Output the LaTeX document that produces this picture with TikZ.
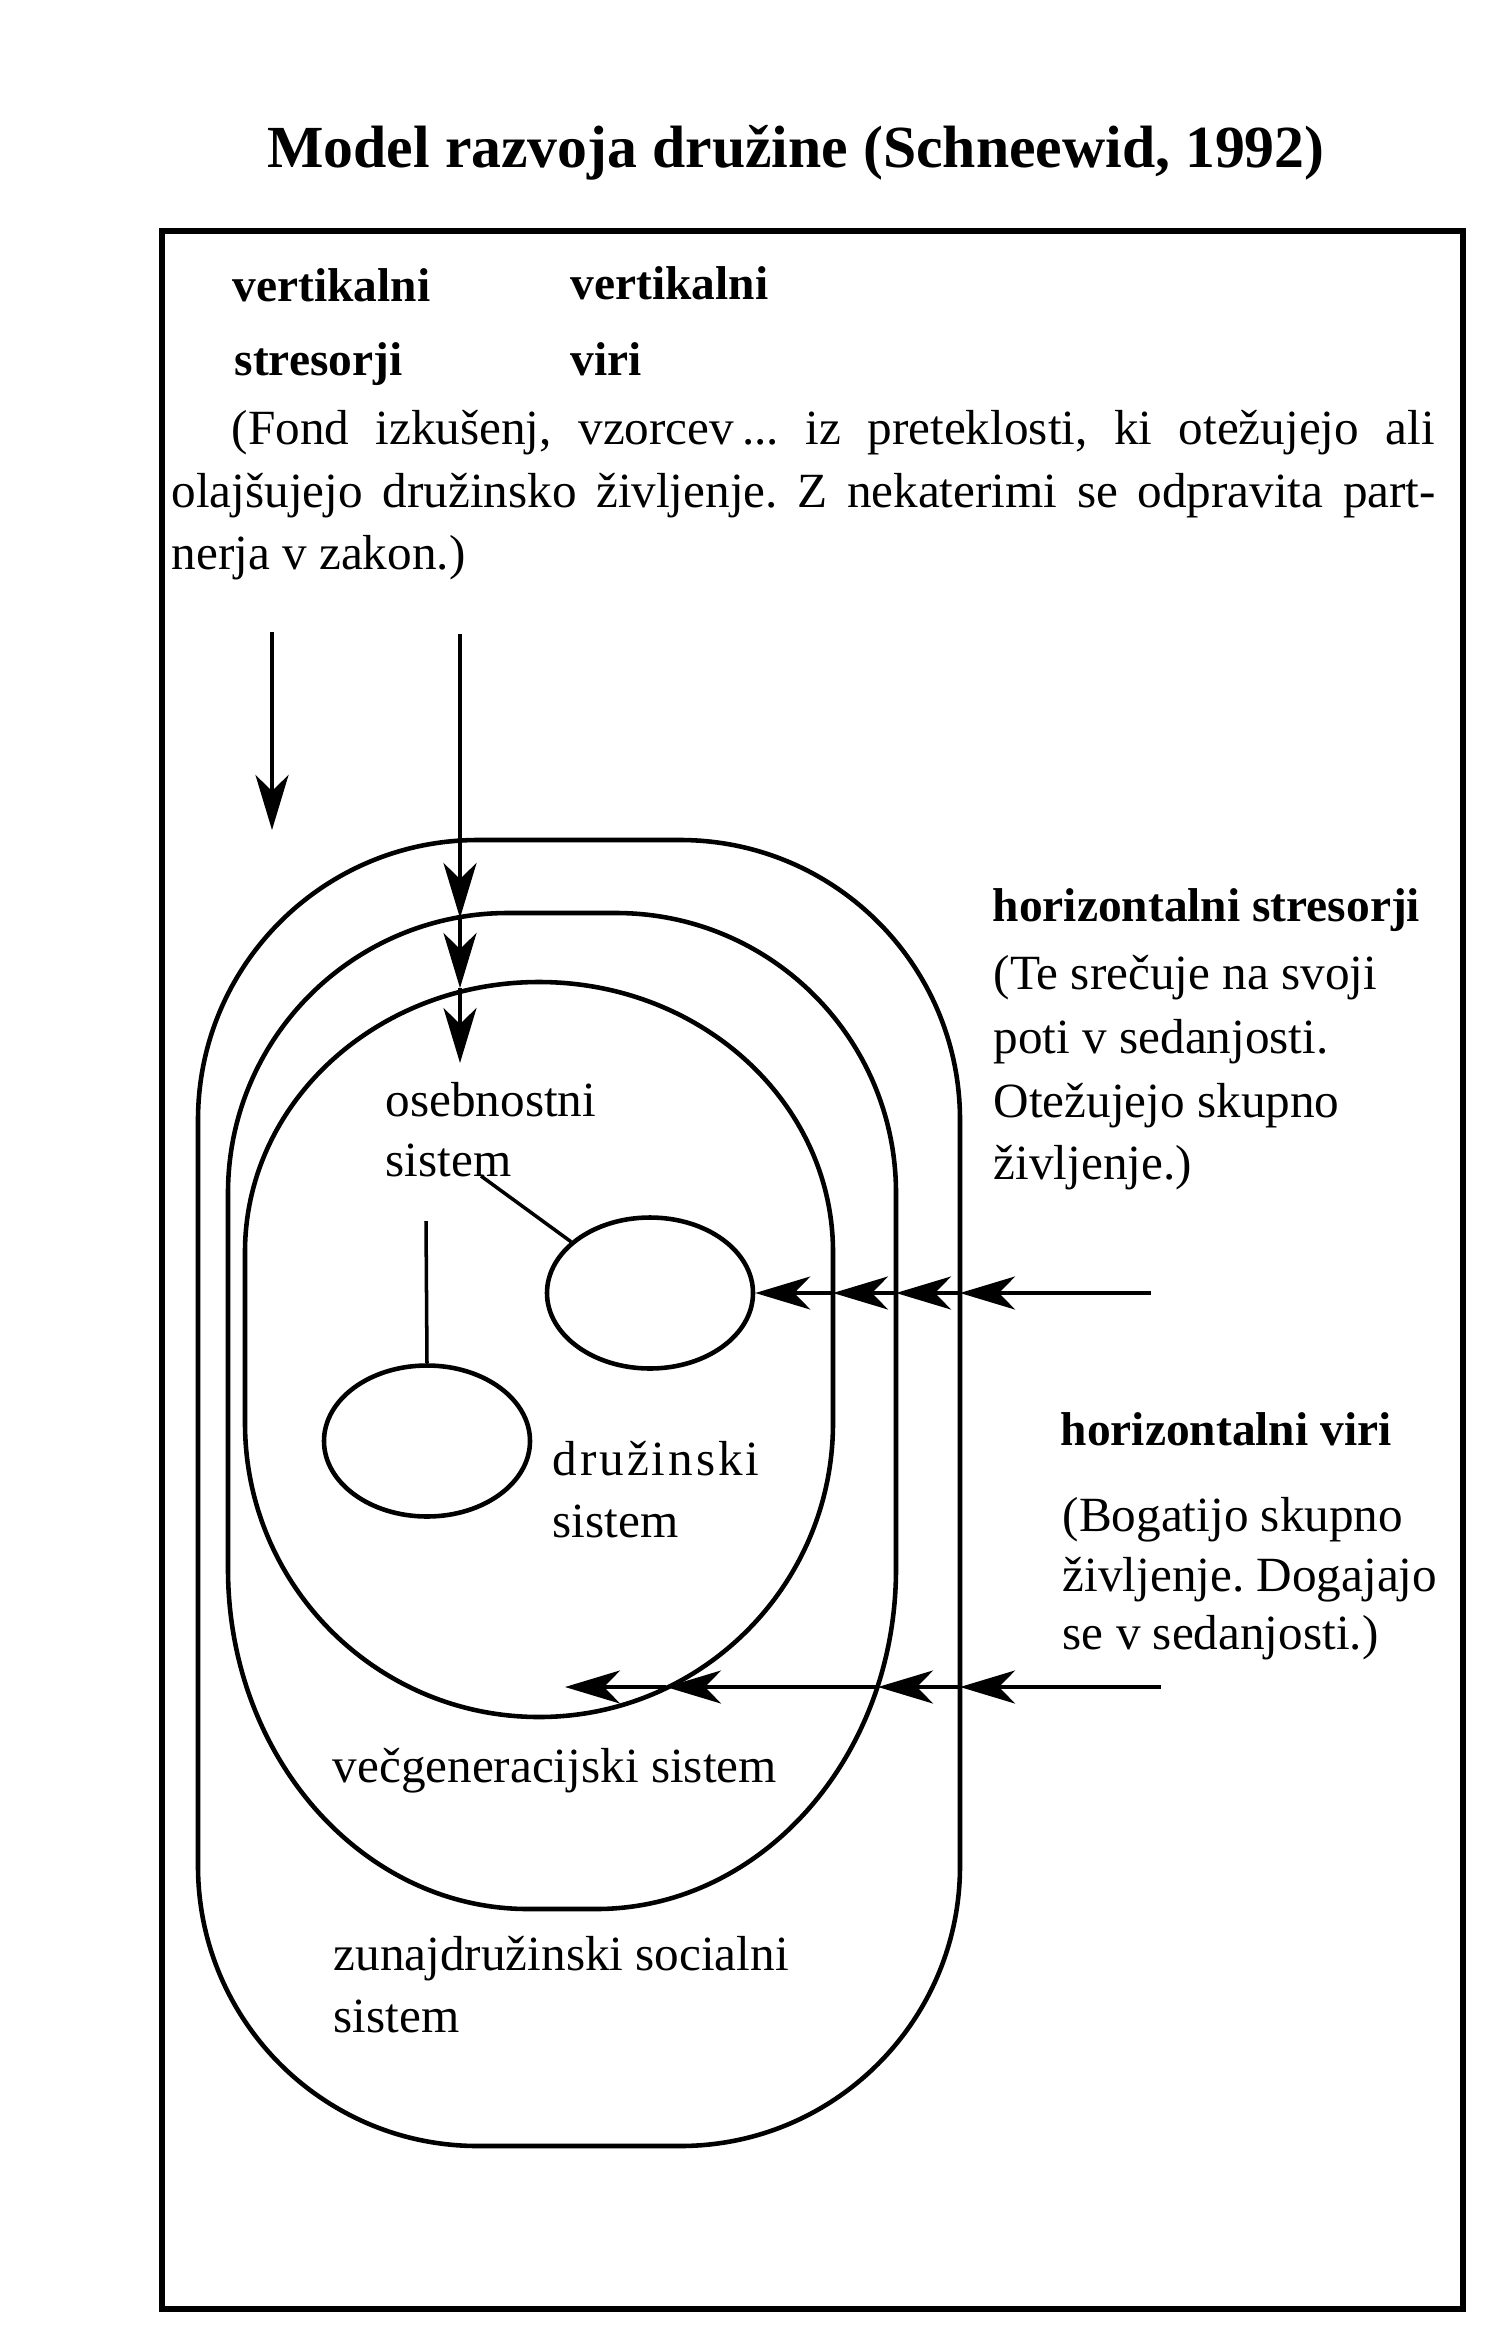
\documentclass[tikz,border=0pt]{standalone}
\usepackage{fontspec}
\setmainfont{Liberation Serif}
\usetikzlibrary{arrows.meta, shapes.geometric, positioning}
\frenchspacing

\tikzset{
    lbl/.style={anchor=base west, inner sep=0pt, font=\fontsize{14}{17}\selectfont},
    hdlbl/.style={lbl, font=\fontsize{13.5}{16}\selectfont\bfseries},
    sysline/.style={line width=1.3pt},
    link/.style={line width=1pt},
    flow/.style={line width=1.1pt, -{Stealth[length=5.5mm, width=3.3mm, inset=1.6mm]}},
    person/.style={draw, ellipse, line width=1.3pt, minimum width=2.06cm, minimum height=1.51cm, inner sep=0pt}
}

\begin{document}
\begin{tikzpicture}
    \useasboundingbox (0,0) rectangle (15,-23.41);

    % Title
    \node[anchor=base, font=\fontsize{17}{20}\selectfont\bfseries] (title) at (7.96,-1.68) {Model razvoja družine (Schneewid, 1992)};

    % Frame
    \draw[line width=1.5pt] (1.62,-2.31) rectangle (14.63,-23.09);

    % Vertical stressors and resources
    \node[hdlbl] (vsHead) at (2.32,-3.01) {vertikalni};
    \node[hdlbl] (vsSub) at (2.34,-3.75) {stresorji};
    \node[hdlbl] (vvHead) at (5.70,-2.99) {vertikalni};
    \node[hdlbl] (vvSub) at (5.70,-3.75) {viri};

    \node[lbl] (fond1) at (2.31,-4.44) {\makebox[12.03cm][s]{(Fond izkušenj, vzorcev\,... iz preteklosti, ki otežujejo ali}};
    \node[lbl] (fond2) at (1.71,-5.07) {\makebox[12.64cm][s]{olajšujejo družinsko življenje. Z nekaterimi se odpravita part-}};
    \node[lbl] (fond3) at (1.71,-5.69) {nerja v zakon.)};

    % Outer system
    \draw[sysline] (1.98,-18.66) -- (1.98,-11.20)
        arc[start angle=180, end angle=90, radius=2.8] -- (6.80,-8.40)
        arc[start angle=90, end angle=0, radius=2.8] -- (9.60,-18.66)
        arc[start angle=0, end angle=-90, radius=2.8] -- (4.78,-21.46)
        arc[start angle=270, end angle=180, radius=2.8] -- cycle;

    % Multigenerational system
    \draw[sysline] (2.28,-15.69) -- (2.28,-11.93)
        arc[start angle=180, end angle=90, radius=2.8] -- (6.16,-9.13)
        arc[start angle=90, end angle=0, radius=2.8] -- (8.96,-15.69)
        arc[start angle=0, end angle=-90, x radius=3.0, y radius=3.4] -- (5.28,-19.09)
        arc[start angle=270, end angle=180, x radius=3.0, y radius=3.4] -- cycle;

    % Family system
    \draw[sysline] (2.45,-14.23) -- (2.45,-12.52)
        arc[start angle=180, end angle=0, x radius=2.94, y radius=2.7] -- (8.33,-14.23)
        arc[start angle=0, end angle=-180, radius=2.94] -- cycle;

    % Persons
    \node[person] (persA) at (6.50,-12.93) {};
    \node[person] (persB) at (4.27,-14.41) {};

    \node[lbl] (osebLbl) at (3.85,-11.16) {osebnostni};
    \node[lbl] (osebLblB) at (3.85,-11.76) {sistem};
    \node[lbl] (druzLbl) at (5.52,-14.75) {\addfontfeature{LetterSpace=6}družinski};
    \node[lbl] (druzLblB) at (5.52,-15.37) {sistem};
    \node[lbl] (vecLbl) at (3.32,-17.82) {večgeneracijski sistem};
    \node[lbl] (zunLbl) at (3.33,-19.70) {zunajdružinski socialni};
    \node[lbl] (zunLblB) at (3.33,-20.32) {sistem};

    \coordinate (osebTail) at (4.81,-11.76);
    \coordinate (druzTail) at (4.26,-12.21);
    \draw[link] (osebTail) -- (persA.147);
    \draw[link] (druzTail) -- (persB.north);

    % Vertical arrows
    \coordinate (vsTop) at (2.72,-6.32);
    \coordinate (vsEnd) at (2.72,-8.30);
    \draw[flow] (vsTop) -- (vsEnd);

    \coordinate (vvTop) at (4.60,-6.34);
    \coordinate (vvMid) at (4.60,-9.18);
    \coordinate (vvInn) at (4.60,-9.88);
    \coordinate (vvEnd) at (4.60,-10.63);
    \foreach \a/\b in {vvTop/vvMid, vvMid/vvInn, vvInn/vvEnd}
        \draw[flow] (\a) -- (\b);

    % Horizontal stressors
    \node[hdlbl] (hsHead) at (9.92,-9.21) {horizontalni stresorji};
    \node[lbl] (hs1) at (9.93,-9.89) {(Te srečuje na svoji};
    \node[lbl] (hs2) at (9.93,-10.53) {poti v sedanjosti.};
    \node[lbl] (hs3) at (9.93,-11.17) {Otežujejo skupno};
    \node[lbl] (hs4) at (9.93,-11.79) {življenje.)};

    \coordinate (hsStart) at (11.51,-12.93);
    \coordinate (hsOut) at (9.60,-12.93);
    \coordinate (hsMid) at (8.96,-12.93);
    \coordinate (hsInn) at (8.33,-12.93);
    \foreach \a/\b in {hsStart/hsOut, hsOut/hsMid, hsMid/hsInn, hsInn/persA.east}
        \draw[flow] (\a) -- (\b);

    % Horizontal resources
    \node[hdlbl] (hvHead) at (10.60,-14.45) {horizontalni viri};
    \node[lbl] (hv1) at (10.62,-15.31) {(Bogatijo skupno};
    \node[lbl] (hv2) at (10.62,-15.91) {življenje. Dogajajo};
    \node[lbl] (hv3) at (10.62,-16.49) {se v sedanjosti.)};

    \coordinate (hvStart) at (11.61,-16.87);
    \coordinate (hvOut) at (9.60,-16.87);
    \coordinate (hvMid) at (8.78,-16.87);
    \coordinate (hvInn) at (6.66,-16.87);
    \coordinate (hvEnd) at (5.65,-16.87);
    \foreach \a/\b in {hvStart/hvOut, hvOut/hvMid, hvMid/hvInn, hvInn/hvEnd}
        \draw[flow] (\a) -- (\b);

\end{tikzpicture}
\end{document}
